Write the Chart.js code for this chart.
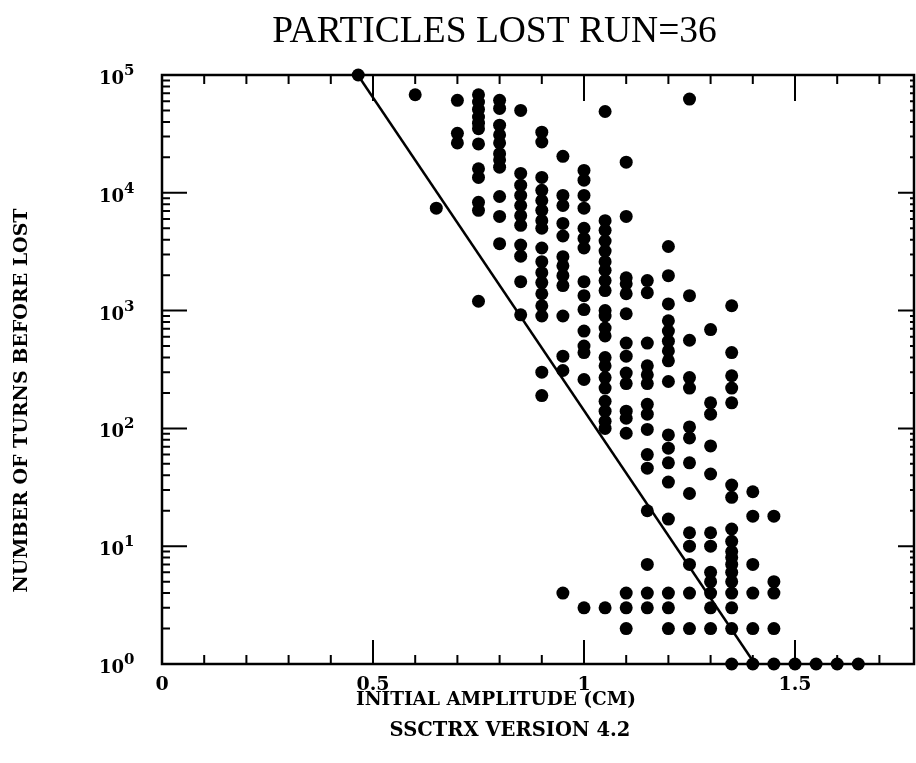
<!DOCTYPE html>
<html>
<head>
<meta charset="utf-8">
<title>Particles lost run=36</title>
<script src="https://cdn.jsdelivr.net/npm/chart.js@4/dist/chart.umd.min.js"></script>
<style>
  html, body { margin: 0; padding: 0; background: #fff; overflow: hidden; }
  #wrap { width: 916px; height: 763px; position: relative; }
</style>
</head>
<body>
<div id="wrap"><canvas id="chart"></canvas></div>
<script>
// Initial amplitude (cm) of each column of dots
const amplitudes = [
  0.465, 0.60, 0.65, 0.70, 0.75, 0.80, 0.85, 0.90, 0.95, 1.00, 1.05, 1.10,
  1.15, 1.20, 1.25, 1.30, 1.35, 1.40, 1.45, 1.50, 1.55, 1.60, 1.65
];

// Number of turns before the particle was lost, one list per amplitude above
const turnsLost = [
  [100000],
  [68000],
  [7400],
  [61000, 32000, 26500],
  [68000, 59000, 51000, 44000, 39000, 35000, 26000, 16000, 13500, 8300, 7100, 1200],
  [61000, 52000, 37500, 31000, 26500, 21500, 19000, 16500, 9300, 6300, 3700],
  [50000, 14600, 11600, 9500, 7800, 6400, 5300, 3600, 2900, 1760, 920],
  [32700, 27000, 13500, 10500, 8600, 7100, 5800, 5000, 3400, 2600, 2100, 1730, 1390, 1100, 900, 300, 190],
  [20400, 9500, 7800, 5500, 4300, 2870, 2400, 1980, 1630, 900, 410, 310, 4],
  [15500, 12800, 9500, 7400, 5000, 4100, 3400, 1760, 1340, 1020, 670, 500, 440, 260, 3],
  [49000, 5800, 4800, 3900, 3200, 2600, 2200, 1800, 1480, 1000, 900, 710, 610, 400, 340, 270, 220, 170, 140, 115, 100, 3],
  [18200, 6300, 1900, 1690, 1390, 940, 530, 410, 295, 240, 140, 122, 91, 4, 3, 2],
  [1800, 1420, 530, 340, 285, 240, 160, 132, 98, 60, 46, 20, 7, 4, 3],
  [3500, 1980, 1140, 820, 670, 550, 455, 375, 250, 88, 68, 51, 35, 17, 4, 3, 2],
  [62500, 1340, 560, 270, 220, 103, 83, 51, 28, 13, 10, 7, 4, 2],
  [690, 165, 132, 71, 41, 13, 10, 6, 5, 4, 3, 2],
  [1100, 440, 280, 220, 165, 33, 26, 14, 11, 9, 8, 7, 6, 5, 4, 3, 2, 1],
  [29, 18, 7, 4, 2, 1],
  [18, 5, 4, 2, 1],
  [1],
  [1],
  [1],
  [1]
];

// Straight line drawn through the lower edge of the losses
const fitAmplitude = [0.464, 1.405];
const fitTurns = [100000, 1];

// Axis ticks
const xTickValues = [0, 0.5, 1, 1.5];
const xTickLabels = ['0', '0.5', '1', '1.5'];
const yTickValues = [1, 10, 100, 1000, 10000, 100000];
const yTickExponents = ['0', '1', '2', '3', '4', '5'];

const SERIF = '"Liberation Serif", "Times New Roman", serif';
const BOLD_SERIF = '"DejaVu Serif", serif';

// frame with inward ticks on all four sides, plus the 10^n labels and axis titles
const axisFrame = {
  id: 'axisFrame',
  beforeDatasetsDraw(chart) {
    const { ctx, chartArea: a, scales: { x, y } } = chart;
    ctx.save();
    ctx.strokeStyle = '#000';
    ctx.lineWidth = 2.5;
    ctx.strokeRect(a.left, a.top, a.right - a.left, a.bottom - a.top);

    ctx.lineWidth = 2;
    ctx.beginPath();
    for (let i = 1; i / 10 < x.max; i++) {
      const px = x.getPixelForValue(i / 10);
      const major = i % 5 === 0;
      ctx.moveTo(px, a.top);
      ctx.lineTo(px, a.top + (major ? 26 : 9));
      ctx.moveTo(px, a.bottom);
      ctx.lineTo(px, a.bottom - (major ? 24 : 9));
    }
    for (let d = 0; d < 5; d++) {
      for (let k = 1; k < 10; k++) {
        if (d === 0 && k === 1) continue;
        const py = y.getPixelForValue(k * Math.pow(10, d));
        const major = k === 1;
        ctx.moveTo(a.left, py);
        ctx.lineTo(a.left + (major ? 25 : 8), py);
        ctx.moveTo(a.right, py);
        ctx.lineTo(a.right - (major ? 16 : 4), py);
      }
    }
    ctx.stroke();
    ctx.restore();
  },
  afterDraw(chart) {
    const { ctx, chartArea: a, scales: { y } } = chart;
    ctx.save();
    ctx.fillStyle = '#000';
    ctx.textBaseline = 'alphabetic';
    y.ticks.forEach((t, i) => {
      const py = y.getPixelForValue(t.value);
      ctx.font = 'bold 18px ' + BOLD_SERIF;
      ctx.textAlign = 'right';
      ctx.fillText('10', a.left - 38, py + 9);
      ctx.font = 'bold 15px ' + BOLD_SERIF;
      ctx.textAlign = 'left';
      ctx.fillText(yTickExponents[i], a.left - 38, py);
    });

    // x-axis title, two lines, set left of the plot centre as in the original
    ctx.font = 'bold 18.5px ' + BOLD_SERIF;
    ctx.textAlign = 'center';
    ctx.textBaseline = 'middle';
    ctx.fillText('INITIAL AMPLITUDE (CM)', a.left + 334, a.bottom + 36);
    ctx.font = 'bold 19.5px ' + BOLD_SERIF;
    ctx.fillText('SSCTRX VERSION 4.2', a.left + 348, a.bottom + 67);

    ctx.translate(22, (a.top + a.bottom) / 2 + 31);
    ctx.rotate(-Math.PI / 2);
    ctx.font = 'bold 19px ' + BOLD_SERIF;
    ctx.fillText('NUMBER OF TURNS BEFORE LOST', 0, 0);
    ctx.restore();
  }
};

const points = [];
amplitudes.forEach((amp, i) => {
  turnsLost[i].forEach(t => points.push({ x: amp, y: t }));
});

new Chart(document.getElementById('chart'), {
  type: 'scatter',
  data: {
    datasets: [
      {
        label: 'fit',
        type: 'line',
        data: fitAmplitude.map((v, i) => ({ x: v, y: fitTurns[i] })),
        borderColor: '#000',
        borderWidth: 2.5,
        pointRadius: 0,
        fill: false
      },
      {
        label: 'particles lost',
        data: points,
        backgroundColor: '#000',
        borderColor: '#000',
        borderWidth: 0,
        pointRadius: 6.5,
        clip: false
      }
    ]
  },
  options: {
    responsive: true,
    maintainAspectRatio: false,
    animation: false,
    layout: { autoPadding: false, padding: { top: 0, right: 2, bottom: 0, left: 0 } },
    plugins: {
      legend: { display: false },
      tooltip: { enabled: false },
      title: {
        display: true,
        text: '        PARTICLES LOST RUN=36',
        color: '#000',
        font: { family: SERIF, size: 37.5, weight: 'normal' },
        padding: { top: 10, bottom: 20 }
      }
    },
    scales: {
      x: {
        type: 'linear',
        min: 0,
        max: 1.782,
        grid: { display: false },
        border: { display: false },
        afterBuildTicks: scale => { scale.ticks = xTickValues.map(v => ({ value: v })); },
        afterFit: scale => { scale.height = 99; },
        ticks: {
          color: '#000',
          padding: 2,
          font: { family: BOLD_SERIF, size: 19, weight: 'bold' },
          callback: (v, i) => xTickLabels[i]
        }
      },
      y: {
        type: 'logarithmic',
        min: 1,
        max: 100000,
        grid: { display: false },
        border: { display: false },
        afterBuildTicks: scale => { scale.ticks = yTickValues.map(v => ({ value: v })); },
        afterFit: scale => { scale.width = 162; },
        ticks: { display: false }
      }
    }
  },
  plugins: [axisFrame]
});
</script>
</body>
</html>
